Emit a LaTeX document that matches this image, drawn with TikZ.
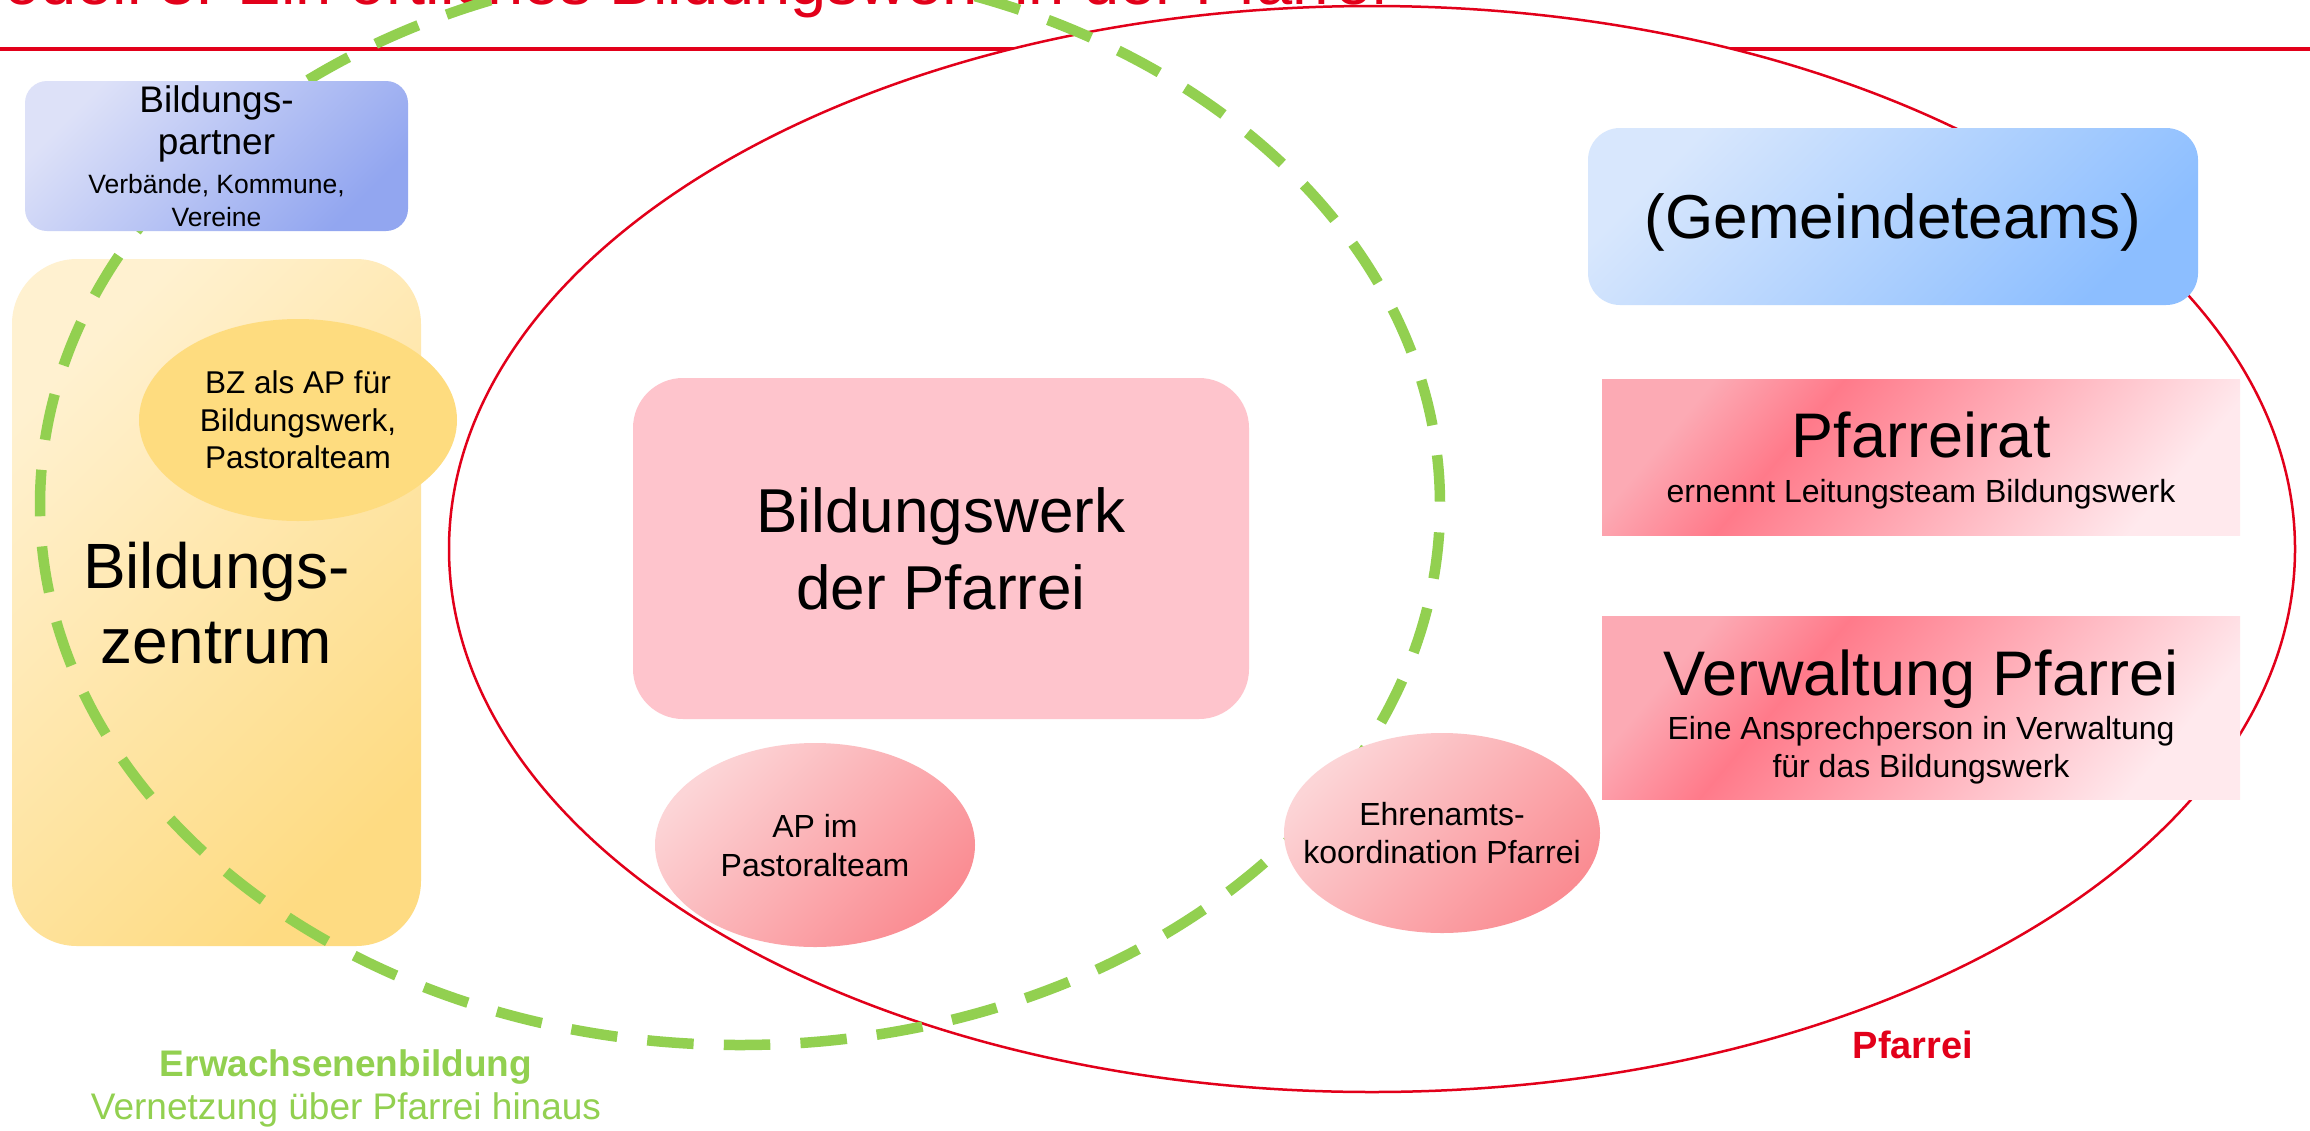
\documentclass[tikz,border=0pt]{standalone}
\usepackage{fontspec}
\setmainfont{Liberation Sans}
\usepackage{xcolor}
\definecolor{pfred}{RGB}{226,0,26}
\definecolor{egreen}{RGB}{146,208,80}
\definecolor{bpA}{RGB}{221,225,248}
\definecolor{bpB}{RGB}{146,166,240}
\definecolor{bzA}{RGB}{255,241,208}
\definecolor{bzB}{RGB}{254,219,130}
\definecolor{bzgold}{RGB}{254,220,127}
\definecolor{gtA}{RGB}{216,231,253}
\definecolor{gtB}{RGB}{140,190,255}
\definecolor{pfA}{RGB}{252,170,180}
\definecolor{pfB}{RGB}{255,122,138}
\definecolor{pfC}{RGB}{255,233,237}
\definecolor{bwpink}{RGB}{254,196,204}
\definecolor{apA}{RGB}{252,213,215}
\definecolor{apB}{RGB}{250,140,146}
\newcommand{\fsz}[2]{\fontsize{#1}{#2}\selectfont}
\lineskiplimit=-1000pt
\usepackage{tikz}
\usetikzlibrary{shapes.geometric}
\pgfdeclarehorizontalshading{pinkband}{100bp}{color(0bp)=(pfA); color(25bp)=(pfA); color(37bp)=(pfB); color(75bp)=(pfC); color(100bp)=(pfC)}

\begin{document}
\begin{tikzpicture}[x=1pt, y=-1pt,
  every node/.style={inner sep=0pt, align=center, text depth=0pt},
  rbox/.style={rectangle, rounded corners=#1},
  bluebox/.style={rbox=#1, left color=bpA, right color=bpB, shading angle=45},
  goldbox/.style={rbox=65pt, left color=bzA, right color=bzB, shading angle=45},
  skybox/.style={rbox=32pt, left color=gtA, right color=gtB, shading angle=45},
  redbar/.style={rectangle, shade, shading=pinkband, shading angle=-40, minimum width=638pt},
  oval/.style={ellipse, inner xsep=-60pt},
  pinkoval/.style={oval, left color=apA, right color=apB, shading angle=45},
  ring/.style={egreen, line width=10.5pt, dash pattern=on 46.5pt off 30.2pt, dash phase=49.3pt}
]
\path[use as bounding box, fill=white] (0,0) rectangle (2310,1130);
\draw[pfred, line width=3.5pt] (0,49) -- (2310,49);
\draw[pfred, line width=2.5pt, fill=white] (1372,549) ellipse [x radius=923, y radius=543];
\node[anchor=base west, text=pfred, font=\fsz{65}{65}] (title) at (-50,4) {Modell 3: Ein örtliches Bildungswerk in der Pfarrei};
% Bildungszentrum und Bildungspartner
\node[goldbox, minimum width=409pt, minimum height=687pt, font=\fsz{64}{75}] (zentrum) at (216.5,602.5) {Bildungs-\\zentrum};
\draw[ring] (740,505) ellipse [x radius=700, y radius=540];
\node[bluebox=22pt, minimum width=383pt, minimum height=150pt, font=\fsz{26.5}{33}] (partner) at (216.5,156) {{\fsz{37}{37}Bildungs-}\\[9.5pt]{\fsz{37}{37}partner}\\[6pt]Verbände, Kommune,\\Vereine};
\node[oval, fill=bzgold, minimum width=318pt, minimum height=202pt, font=\fsz{31.5}{37.5}] (bzap) at (298,420) {BZ als AP für\\Bildungswerk,\\Pastoralteam};
% Pfarrei
\node[skybox, minimum width=610pt, minimum height=177pt, font=\fsz{62}{62}] (gemeinde) at (1893,216.5) {(Gemeindeteams)};
\node[redbar, minimum height=156pt, font=\fsz{32}{45}] (rat) at (1921,457) {{\fsz{63}{63}Pfarreirat}\\ernennt Leitungsteam Bildungswerk};
\node[redbar, minimum height=183pt, text height=140pt, font=\fsz{32}{38}] (verwaltung) at (1921,707.5) {{\fsz{63}{63}Verwaltung Pfarrei}\\[6pt]Eine Ansprechperson in Verwaltung\\für das Bildungswerk};
\node[rbox=50pt, fill=bwpink, minimum width=616pt, minimum height=341pt, font=\fsz{62}{77}] (werk) at (941,548.5) {Bildungswerk\\der Pfarrei};
\node[pinkoval, minimum width=320pt, minimum height=204pt, font=\fsz{32}{39}] (ap) at (815,845) {AP im\\Pastoralteam};
\node[pinkoval, minimum width=316pt, minimum height=200pt, font=\fsz{32}{38}] (ehrenamt) at (1442,833) {Ehrenamts-\\koordination Pfarrei};
% Beschriftungen
\node[text=egreen, font=\fsz{37}{43}] (eblabel) at (346,1085) {{\bfseries Erwachsenenbildung}\\Vernetzung über Pfarrei hinaus};
\node[anchor=base, text=pfred, font=\bfseries\fsz{38}{38}] (pfarreilabel) at (1913,1058) {Pfarrei};
\end{tikzpicture}
\end{document}
